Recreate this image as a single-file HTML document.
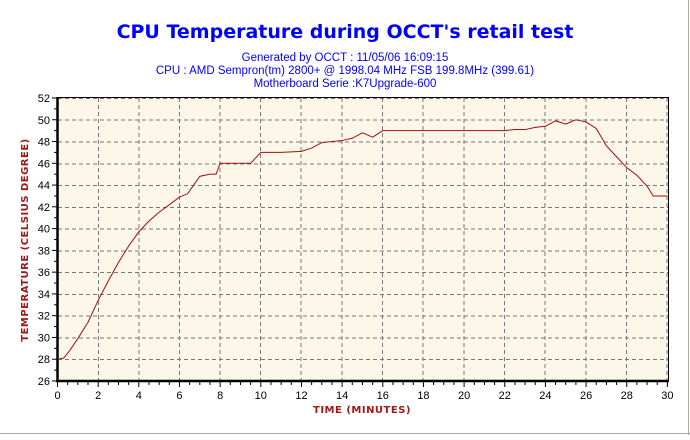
<!DOCTYPE html>
<html><head><style>
body{margin:0;width:690px;height:435px;background:#fff;overflow:hidden;font-family:"Liberation Sans",sans-serif}
</style></head><body>
<svg width="690" height="435" xmlns="http://www.w3.org/2000/svg">
<rect x="0" y="0" width="690" height="435" fill="#fff"/>
<line x1="688.5" y1="0" x2="688.5" y2="435" stroke="#aaa89a" stroke-width="1"/>
<line x1="0" y1="433.5" x2="690" y2="433.5" stroke="#aaa89a" stroke-width="1"/>
<text x="345" y="38" text-anchor="middle" font-size="19" font-weight="bold" fill="#0000ff" font-family="DejaVu Sans, sans-serif">CPU Temperature during OCCT's retail test</text>
<g font-size="11.5" fill="#0000ff" text-anchor="middle">
<text x="345" y="61">Generated by OCCT : 11/05/06 16:09:15</text>
<text x="345" y="74">CPU : AMD Sempron(tm) 2800+ @ 1998.04 MHz FSB 199.8MHz (399.61)</text>
<text x="345" y="87">Motherboard Serie :K7Upgrade-600</text>
</g>
<rect x="57.5" y="97.5" width="611" height="283.5" fill="#fdf7e9" stroke="#000" stroke-width="1"/>
<g stroke="#777" stroke-dasharray="4,3" stroke-width="1">
<line x1="98.5" y1="98" x2="98.5" y2="381"/><line x1="139" y1="98" x2="139" y2="381"/><line x1="179.5" y1="98" x2="179.5" y2="381"/><line x1="220" y1="98" x2="220" y2="381"/><line x1="260.5" y1="98" x2="260.5" y2="381"/><line x1="301" y1="98" x2="301" y2="381"/><line x1="342" y1="98" x2="342" y2="381"/><line x1="382.5" y1="98" x2="382.5" y2="381"/><line x1="423" y1="98" x2="423" y2="381"/><line x1="464" y1="98" x2="464" y2="381"/><line x1="504.5" y1="98" x2="504.5" y2="381"/><line x1="545" y1="98" x2="545" y2="381"/><line x1="586" y1="98" x2="586" y2="381"/><line x1="626.5" y1="98" x2="626.5" y2="381"/><line x1="667" y1="98" x2="667" y2="381"/>
<line x1="58" y1="98.5" x2="668" y2="98.5"/><line x1="58" y1="120" x2="668" y2="120"/><line x1="58" y1="142" x2="668" y2="142"/><line x1="58" y1="164" x2="668" y2="164"/><line x1="58" y1="185.5" x2="668" y2="185.5"/><line x1="58" y1="207.5" x2="668" y2="207.5"/><line x1="58" y1="229" x2="668" y2="229"/><line x1="58" y1="251" x2="668" y2="251"/><line x1="58" y1="272.5" x2="668" y2="272.5"/><line x1="58" y1="294.5" x2="668" y2="294.5"/><line x1="58" y1="316" x2="668" y2="316"/><line x1="58" y1="338" x2="668" y2="338"/><line x1="58" y1="359.5" x2="668" y2="359.5"/>
</g>
<line x1="57.5" y1="97" x2="57.5" y2="382" stroke="#000" stroke-width="2.5"/>
<line x1="56" y1="381" x2="669" y2="381" stroke="#000" stroke-width="2.5"/>
<g id="ticks" stroke="#000" stroke-width="1"></g>
<g transform="translate(57.5,381) scale(20.33,-10.885) translate(0,-26)">
<polyline fill="none" stroke="#a01010" stroke-width="1" vector-effect="non-scaling-stroke" points="0,28 0.3,28.1 0.6,28.8 1,29.9 1.5,31.4 2,33.4 2.5,35.2 3,36.9 3.5,38.4 4,39.7 4.5,40.7 5,41.5 5.5,42.2 6,42.9 6.4,43.2 7,44.8 7.5,45 7.8,45 8,46 9.5,46 10,47 11,47 12,47.1 12.5,47.4 13,47.9 14,48.1 14.5,48.3 15,48.8 15.5,48.4 16,49 22,49 22.5,49.1 23,49.1 23.5,49.3 24,49.4 24.5,49.9 25,49.6 25.5,50 26,49.8 26.5,49.2 27,47.6 27.5,46.6 28,45.6 28.5,44.9 29,43.9 29.3,43 30,43"/>
</g>
<g font-size="11" fill="#000" text-anchor="end" id="yl"></g>
<g font-size="11" fill="#000" text-anchor="middle" id="xl"></g>
<text x="362" y="413" text-anchor="middle" font-size="10" font-weight="bold" fill="#a01818" font-family="DejaVu Sans, sans-serif" letter-spacing="0.5">TIME (MINUTES)</text>
<text transform="translate(28,240) rotate(-90)" text-anchor="middle" font-size="10" font-weight="bold" fill="#a01818" font-family="DejaVu Sans, sans-serif" letter-spacing="0.5">TEMPERATURE (CELSIUS DEGREE)</text>
</svg>
<script>
var ns="http://www.w3.org/2000/svg",t=document.getElementById('ticks'),yl=document.getElementById('yl'),xl=document.getElementById('xl');
function ln(a,b,c,d){var l=document.createElementNS(ns,'line');l.setAttribute('x1',a);l.setAttribute('y1',b);l.setAttribute('x2',c);l.setAttribute('y2',d);t.appendChild(l);}
function tx(g,x,y,s){var e=document.createElementNS(ns,'text');e.setAttribute('x',x);e.setAttribute('y',y);e.textContent=s;g.appendChild(e);}
for(var v=26;v<=52;v++){var y=381-(v-26)*10.885;ln(v%2?54:52,y,57,y);if(v%2==0)tx(yl,50,y+4,v);}
for(var m=0;m<=30;m+=0.5){var x=57.5+m*20.33;ln(x,382,x,m%2==0?387:385);if(m%2==0)tx(xl,x,399,m);}
</script>
</body></html>
